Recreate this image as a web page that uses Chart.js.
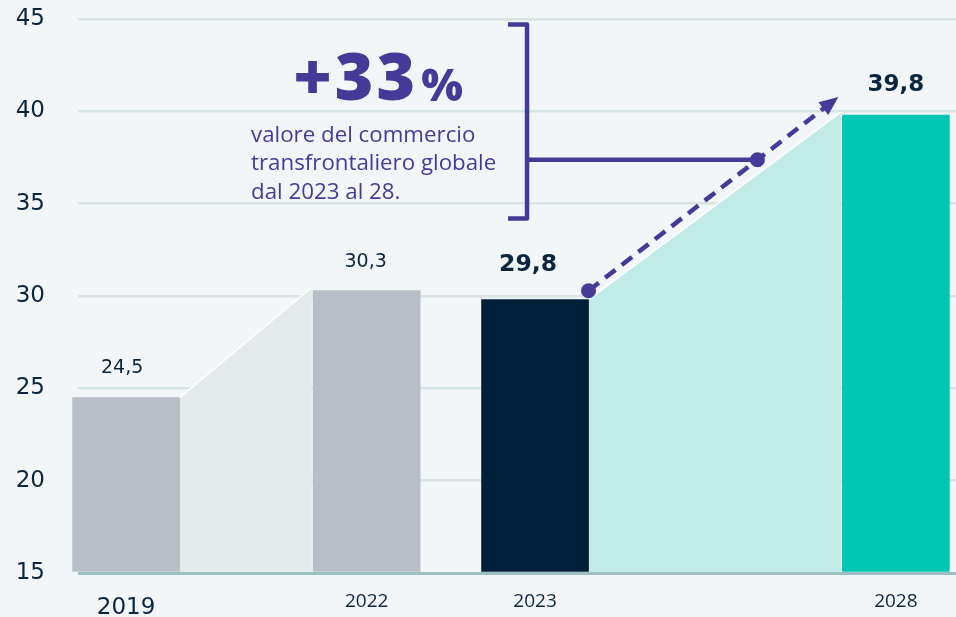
<!DOCTYPE html>
<html>
<head>
<meta charset="utf-8">
<script src="https://cdn.jsdelivr.net/npm/chart.js@4.4.1/dist/chart.umd.min.js"></script>
<style>
    html, body { margin: 0; padding: 0; background: #f2f6f9; }
    #wrap { position: relative; width: 956px; height: 617px; }
</style>
</head>
<body>
<div id="wrap"><canvas id="chart"></canvas></div>
<script>
// ---------------------------------------------------------------------------
// Data
// ---------------------------------------------------------------------------

const years = ['2019', '2022', '2023', '2028'];
const values = [24.5, 30.3, 29.8, 39.8];
const valueLabels = ['24,5', '30,3', '29,8', '39,8'];
const yTicks = [15, 20, 25, 30, 35, 40, 45];
const growthNumber = '+33';
const growthUnit = '%';
const noteLines = ['valore del commercio', 'transfrontaliero globale', 'dal 2023 al 28.'];

// ---------------------------------------------------------------------------
// Layout + styles
// ---------------------------------------------------------------------------

// bars sit on a fine category grid so the gaps between years can differ
const SLOT_COUNT = 74;
const barSlots = [4, 24, 38, 68];

const PURPLE = '#463a98';
const INK = '#0b2540';
const barColors = ['#b7bec5', '#b7bec5', '#001f38', '#00c7b4'];
const labelStyles = [
    { font: '19px "DejaVu Sans"', dx: -4, dy: -30 },
    { font: '19px "DejaVu Sans"', dx: -1, dy: -28 },
    { font: 'bold 23.5px "DejaVu Sans"', dx: -7, dy: -35 },
    { font: 'bold 23px "DejaVu Sans"', dx: 0, dy: -30 },
];

const labels = new Array(SLOT_COUNT).fill('');
const slotData = new Array(SLOT_COUNT).fill(null);
const slotColors = new Array(SLOT_COUNT).fill('transparent');
barSlots.forEach((s, i) => {
    labels[s] = years[i];
    slotData[s] = values[i];
    slotColors[s] = barColors[i];
});

// ---------------------------------------------------------------------------
// Decorations: bridges between bars, value labels, arrow, bracket, note
// ---------------------------------------------------------------------------

function bridge(ctx, a, b, base, color) {
    const x1 = a.x + a.width / 2, y1 = a.y;
    const x2 = b.x - b.width / 2 - 1.5, y2 = b.y - 3;
    ctx.save();
    ctx.fillStyle = color;
    ctx.beginPath();
    ctx.moveTo(x1, y1);
    ctx.lineTo(x2, y2);
    ctx.lineTo(x2, base);
    ctx.lineTo(x1, base);
    ctx.closePath();
    ctx.fill();
    ctx.strokeStyle = '#ffffff';
    ctx.lineWidth = 1.5;
    ctx.beginPath();
    ctx.moveTo(x1, y1);
    ctx.lineTo(x2, y2);
    ctx.stroke();
    ctx.restore();
}

const decor = {
    id: 'decor',
    beforeDatasetsDraw(chart) {
        const meta = chart.getDatasetMeta(0);
        const bars = barSlots.map(s => meta.data[s]);
        const base = chart.chartArea.bottom - 1;
        bridge(chart.ctx, bars[0], bars[1], base, '#e4e9ec');
        bridge(chart.ctx, bars[2], bars[3], base, '#c1ebe7');
    },
    afterDatasetsDraw(chart) {
        const ctx = chart.ctx;
        const yScale = chart.scales.y;
        const area = chart.chartArea;
        const meta = chart.getDatasetMeta(0);
        const bars = barSlots.map(s => meta.data[s]);

        ctx.save();

        // value labels
        ctx.textAlign = 'center';
        ctx.textBaseline = 'middle';
        ctx.fillStyle = INK;
        bars.forEach((bar, i) => {
            const st = labelStyles[i];
            ctx.font = st.font;
            ctx.fillText(valueLabels[i], bar.x + st.dx, bar.y + st.dy);
        });

        // dashed growth arrow 2023 -> 2028
        const a = bars[2], b = bars[3];
        const sx = a.x + a.width / 2, sy = a.y - 9;
        const ex = b.x - b.width / 2 - 4, ey = b.y - 18;
        const len = Math.hypot(ex - sx, ey - sy);
        const ux = (ex - sx) / len, uy = (ey - sy) / len;
        ctx.strokeStyle = PURPLE;
        ctx.fillStyle = PURPLE;
        ctx.lineWidth = 4.5;
        ctx.setLineDash([13, 8]);
        ctx.beginPath();
        ctx.moveTo(sx, sy);
        ctx.lineTo(ex - 14 * ux, ey - 14 * uy);
        ctx.stroke();
        ctx.setLineDash([]);
        // head
        const hx = ex - 19 * ux, hy = ey - 19 * uy;
        ctx.beginPath();
        ctx.moveTo(ex, ey);
        ctx.lineTo(hx - 8 * uy, hy + 8 * ux);
        ctx.lineTo(hx + 8 * uy, hy - 8 * ux);
        ctx.closePath();
        ctx.fill();
        // dots
        const t = 0.676;
        const mx = sx + (ex - sx) * t, my = sy + (ey - sy) * t;
        [[sx, sy], [mx, my]].forEach(([px, py]) => {
            ctx.beginPath();
            ctx.arc(px, py, 7.5, 0, Math.PI * 2);
            ctx.fill();
        });

        // bracket
        const bx = a.x - 8;
        const top = yScale.getPixelForValue(44.7);
        const bottom = yScale.getPixelForValue(34.2);
        ctx.lineWidth = 4.5;
        ctx.lineJoin = 'round';
        ctx.beginPath();
        ctx.moveTo(bx - 19, top);
        ctx.lineTo(bx, top);
        ctx.lineTo(bx, bottom);
        ctx.lineTo(bx - 19, bottom);
        ctx.stroke();
        ctx.beginPath();
        ctx.moveTo(bx, my);
        ctx.lineTo(mx, my);
        ctx.stroke();

        // note
        ctx.textBaseline = 'alphabetic';
        ctx.textAlign = 'left';
        ctx.letterSpacing = '3px';
        ctx.font = '800 66px "Open Sans"';
        const w1 = ctx.measureText(growthNumber).width;
        ctx.letterSpacing = '0px';
        ctx.font = '800 44px "Open Sans"';
        const w2 = ctx.measureText(growthUnit).width;
        const cx = bx - 149;
        const start = cx - (w1 + 3 + w2) / 2;
        ctx.letterSpacing = '3px';
        ctx.font = '800 66px "Open Sans"';
        ctx.fillText(growthNumber, start, area.top + 81);
        ctx.letterSpacing = '0px';
        ctx.font = '800 44px "Open Sans"';
        ctx.fillText(growthUnit, start + w1 + 3, area.top + 82);

        ctx.font = '22.3px "Open Sans"';
        noteLines.forEach((line, i) => {
            ctx.fillText(line, bx - 276, area.top + 122.7 + i * 28.4);
        });

        ctx.restore();
    }
};

// ---------------------------------------------------------------------------
// Chart
// ---------------------------------------------------------------------------

new Chart(document.getElementById('chart'), {
    type: 'bar',
    data: {
        labels,
        datasets: [{
            data: slotData,
            backgroundColor: slotColors,
            barThickness: 107,
            borderWidth: 0,
            base: 15,
            clip: false,
        }]
    },
    options: {
        responsive: true,
        maintainAspectRatio: false,
        animation: false,
        layout: { padding: { top: 19, right: 0, bottom: 0, left: 0 } },
        plugins: { legend: { display: false }, tooltip: { enabled: false } },
        scales: {
            x: {
                offset: false,
                grid: { display: false, drawTicks: false },
                border: { display: false },
                ticks: {
                    autoSkip: false,
                    maxRotation: 0,
                    padding: 17,
                    color: INK,
                    font: c => c.index === barSlots[0]
                        ? { family: 'DejaVu Sans', size: 23, lineHeight: 1.6 }
                        : { family: 'Open Sans', size: 19, lineHeight: 1.2 },
                },
                afterFit: s => {
                    s.height = 44;
                    s.paddingLeft = 0;
                    s.paddingRight = 0;
                },
            },
            y: {
                min: 15,
                max: 45,
                afterBuildTicks: s => { s.ticks = yTicks.map(v => ({ value: v })); },
                grid: {
                    drawTicks: false,
                    color: c => c.tick && c.tick.value === 15 ? '#9cc0c2' : '#d8e3e6',
                    lineWidth: c => c.tick && c.tick.value === 15 ? 3 : 2.5,
                },
                border: { display: false },
                ticks: {
                    padding: 33,
                    color: INK,
                    font: { family: 'DejaVu Sans', size: 23 },
                },
                afterFit: s => {
                    s.width = 78;
                    s.paddingTop = 12;
                    s.paddingBottom = 12;
                },
            }
        }
    },
    plugins: [decor]
});
</script>
</body>
</html>
